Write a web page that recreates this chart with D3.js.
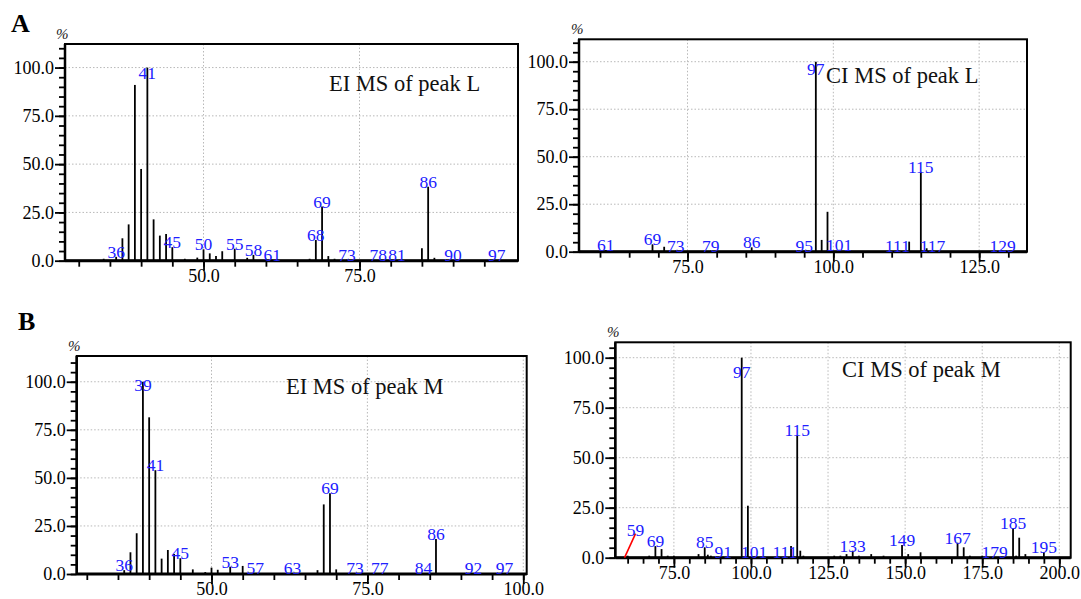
<!DOCTYPE html>
<html><head><meta charset="utf-8">
<script src="https://cdn.jsdelivr.net/npm/d3@7"></script>
<style>
body{margin:0;background:#fff}
svg, svg text{font-family:"Liberation Serif","Times New Roman",Times,serif !important}
</style>
</head><body>
<svg id="c" width="1081" height="599"></svg>
<script>
// ---------- DATA ----------
const eiL_mz  = [34,36,37,38,39,40,41,42,43,44,45,47,49,50,51,52,53,55,57,58,60,61,67,68,69,70,71,73,78,81,85,86,87,90,97];
const eiL_int = [1,2,11.6,18.8,91,47.5,100,21.4,13,13.8,7,1,1.6,5.9,3.8,2.4,4.9,6.2,1.5,3,1,0.5,1,10.7,28,2.4,1,0.5,0.3,0.3,6.4,38.3,1.5,0.3,0.3];
const eiL_lab = [36,41,45,50,55,58,61,68,69,73,78,81,86,90,97];

const ciL_mz  = [61,69,71,73,79,86,95,97,98,99,101,111,113,115,116,117,129];
const ciL_int = [0.8,3.9,2.6,0.5,0.5,2.3,0.5,100,6.2,21,1,0.5,5.3,42,1.8,0.5,0.5];
const ciL_lab = [61,69,73,79,86,95,97,101,111,115,117,129];

const eiM_mz  = [36,37,38,39,40,41,42,43,44,45,47,49,50,51,53,55,57,63,67,68,69,70,73,77,84,86,92,97];
const eiM_int = [2,11.3,21.2,100,81.5,54,8,12.5,10.4,8.2,2.4,1,3.3,2.2,3.8,4.2,0.5,0.3,2,36.2,42,2.4,0.5,0.5,0.5,18.2,0.3,0.3];
const eiM_lab = [36,39,41,45,53,57,63,69,73,77,84,86,92,97];

const ciM_mz  = [59,60,67,69,71,73,75,83,85,86,87,91,97,99,101,111,113,115,116,117,127,129,131,133,135,139,143,149,151,155,167,169,171,175,179,185,186,187,189,195];
const ciM_int = [0,1,1,5.8,4.3,1,1,1.8,5.2,1.5,1,0.5,100,26,0.5,0.5,5.8,61.3,3.5,1,1,1,1.8,3.5,1,1.8,1,6.3,1.8,2.7,7.5,5.2,1,1,0.3,14.7,1,10,1.8,2.7];
const ciM_lab = [59,69,85,91,97,101,111,115,133,149,167,179,185,195];
const ciM_leader = [59];

const yMajorTicks = [0,25,50,75,100];

// ---------- LAYOUT ----------
const panels = [
  {mz:eiL_mz, inten:eiL_int, lab:eiL_lab, leader:[], title:"EI MS of peak L",
   box:{l:65,r:518,t:44,b:260.7}, xd:[27.8,100.4], ymax:112.2, xMaj:[50,75], xMin:[30,99], cap:94,
   tx:329, ty:91, pct:[56,39]},
  {mz:ciL_mz, inten:ciL_int, lab:ciL_lab, leader:[], title:"CI MS of peak L",
   box:{l:579,r:1027,t:39.3,b:251.7}, xd:[56.4,133.2], ymax:111.8, xMaj:[75,100,125], xMin:[60,130], cap:93,
   tx:826, ty:83, pct:[571,34]},
  {mz:eiM_mz, inten:eiM_int, lab:eiM_lab, leader:[], title:"EI MS of peak M",
   box:{l:76.7,r:526.7,t:356,b:574}, xd:[28.38,100.55], ymax:113.4, xMaj:[50,75,100], xMin:[30,100], cap:95,
   tx:286, ty:394, pct:[68,351]},
  {mz:ciM_mz, inten:ciM_int, lab:ciM_lab, leader:ciM_leader, title:"CI MS of peak M",
   box:{l:615.3,r:1070.7,t:342.3,b:557.7}, xd:[56.0,203.7], ymax:107.7, xMaj:[75,100,125,150,175,200], xMin:[60,200], cap:90,
   tx:842, ty:377, pct:[607,337]}
];

const svg = d3.select("#c");
const blue = "#2020ff";
const FF = '"Liberation Serif","Times New Roman",Times,serif';

svg.append("text").attr("x",11).attr("y",32).style("font-size","26px").attr("font-weight","bold").text("A");
svg.append("text").attr("x",18).attr("y",330).style("font-size","26px").attr("font-weight","bold").text("B");

panels.forEach(p=>{
  const B = p.box;
  const x = d3.scaleLinear().domain(p.xd).range([B.l,B.r]);
  const y = d3.scaleLinear().domain([0,p.ymax]).range([B.b,B.t]);
  const g = svg.append("g");

  g.selectAll(".hg").data(yMajorTicks.filter(v=>v>0)).join("line")
    .attr("x1",B.l).attr("x2",B.r).attr("y1",d=>y(d)).attr("y2",d=>y(d))
    .attr("stroke","#b8b8b8").attr("stroke-width",1).attr("stroke-dasharray","1.5,2");
  g.selectAll(".vg").data(p.xMaj).join("line")
    .attr("x1",d=>x(d)).attr("x2",d=>x(d)).attr("y1",B.t).attr("y2",B.b)
    .attr("stroke","#b8b8b8").attr("stroke-width",1).attr("stroke-dasharray","1.5,2");

  g.append("rect").attr("x",B.l).attr("y",B.t).attr("width",B.r-B.l).attr("height",B.b-B.t)
    .attr("fill","none").attr("stroke","#000").attr("stroke-width",2);

  const yMinor = d3.range(0,p.ymax,5);
  const ya1 = g.append("g").attr("transform",`translate(${B.l},0)`)
    .call(d3.axisLeft(y).tickValues(yMinor).tickSize(6).tickFormat(""));
  const ya2 = g.append("g").attr("transform",`translate(${B.l},0)`)
    .call(d3.axisLeft(y).tickValues(yMajorTicks).tickSize(10).tickPadding(1).tickFormat(d3.format(".1f")));
  const xMinor = d3.range(p.xMin[0],p.xMin[1]+0.1,5);
  const xa1 = g.append("g").attr("transform",`translate(0,${B.b})`)
    .call(d3.axisBottom(x).tickValues(xMinor).tickSize(6).tickFormat(""));
  const xa2 = g.append("g").attr("transform",`translate(0,${B.b})`)
    .call(d3.axisBottom(x).tickValues(p.xMaj).tickSize(10).tickPadding(1).tickFormat(d3.format(".1f")));
  [ya1,ya2,xa1,xa2].forEach(a=>{
    a.attr("font-family",null).attr("font-size",null);
    a.select(".domain").remove();
    a.selectAll("line").attr("stroke","#000").attr("stroke-width",1.8);
    a.selectAll("text").style("font-family",FF).style("font-size","18px").attr("fill","#000");
  });
  xa2.selectAll("text").attr("dy","0.56em");
  g.append("line").attr("x1",B.l).attr("x2",B.r).attr("y1",B.b).attr("y2",B.b).attr("stroke","#000").attr("stroke-width",3);
  g.append("line").attr("x1",B.l).attr("x2",B.l).attr("y1",B.t).attr("y2",B.b).attr("stroke","#000").attr("stroke-width",2.5);

  const pts = p.mz.map((m,i)=>({m, v:p.inten[i]}));
  g.selectAll(".pk").data(pts.filter(d=>d.v>0)).join("line")
    .attr("x1",d=>x(d.m)).attr("x2",d=>x(d.m)).attr("y1",B.b).attr("y2",d=>y(d.v))
    .attr("stroke","#000").attr("stroke-width",1.8);

  const labs = pts.filter(d=>p.lab.includes(d.m));
  labs.forEach(d=>{
    if(p.leader.includes(d.m)){
      g.append("line").attr("x1",x(d.m)).attr("y1",y(0)).attr("x2",x(d.m)+11).attr("y2",y(0)-24)
        .attr("stroke","#ff0000").attr("stroke-width",1.6);
      g.append("text").attr("x",x(d.m)+11).attr("y",y(0)-22).attr("text-anchor","middle")
        .style("font-size","17.5px").attr("fill",blue).text(d.m);
    } else {
      const by = Math.max(y(d.v)+1, y(p.cap));
      g.append("text").attr("x",x(d.m)).attr("y",by).attr("text-anchor","middle")
        .style("font-size","17.5px").attr("fill",blue).text(d.m);
    }
  });

  g.append("text").attr("x",p.tx).attr("y",p.ty).style("font-size","22.5px").attr("fill","#111").text(p.title);
  g.append("text").attr("x",p.pct[0]).attr("y",p.pct[1]).style("font-size","15px").attr("font-style","italic").attr("fill","#222").text("%");
});
</script>
</body></html>
